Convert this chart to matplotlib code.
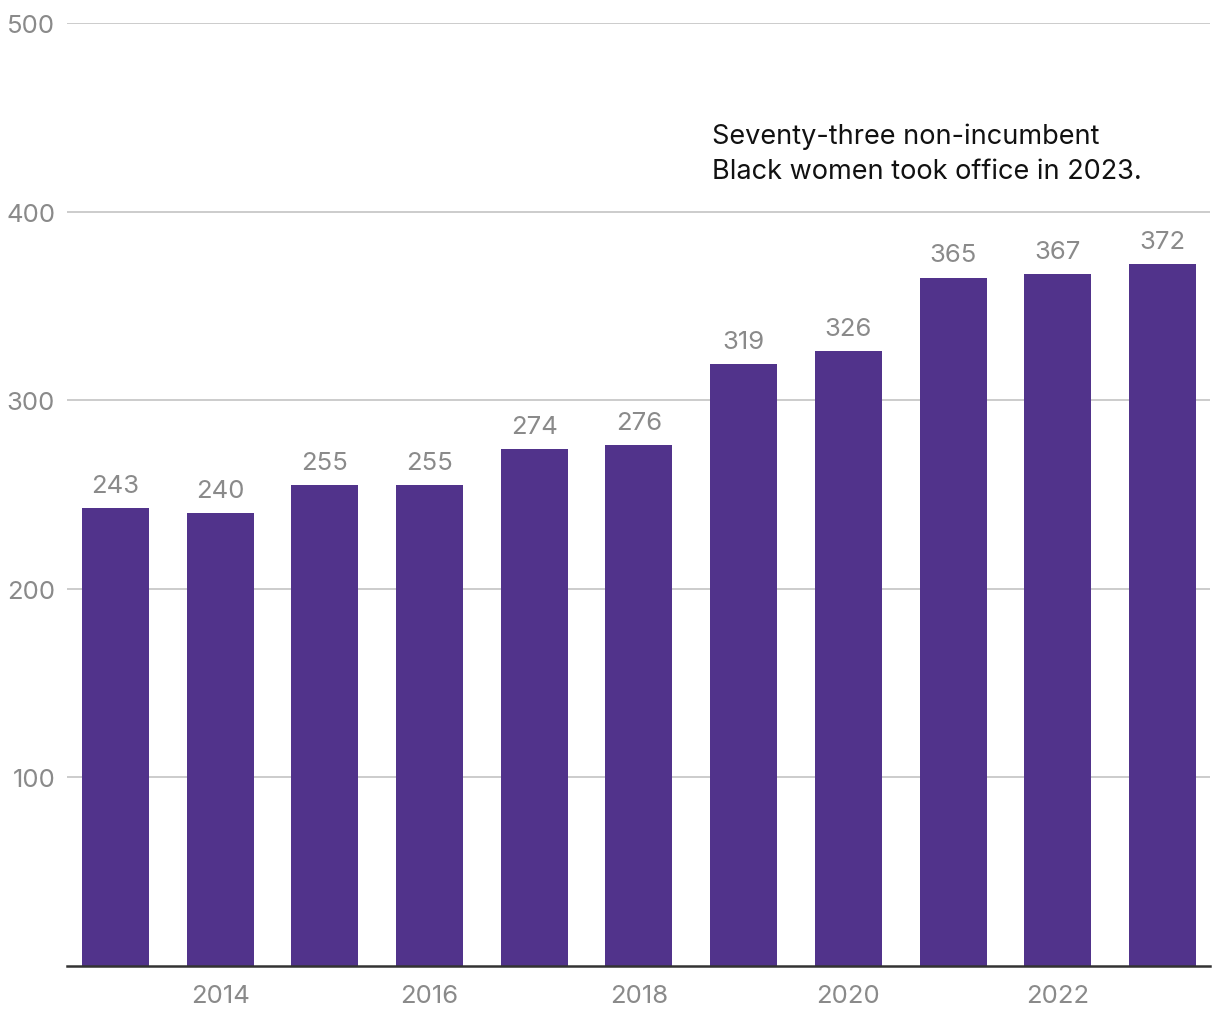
import matplotlib.pyplot as plt

plt.rcParams['font.family'] = ['Inter', 'DejaVu Sans']

years = [2013, 2014, 2015, 2016, 2017, 2018, 2019, 2020, 2021, 2022, 2023]
counts = [243, 240, 255, 255, 274, 276, 319, 326, 365, 367, 372]
yticks = [100, 200, 300, 400, 500]
xticks = [2014, 2016, 2018, 2020, 2022]
note = "Seventy-three non-incumbent\nBlack women took office in 2023."

bar_color = '#51338b'
grey = '#8a8a8a'

fig = plt.figure(figsize=(12.2, 10.2), dpi=100)
ax = fig.add_axes([67 / 1220, 53 / 1020, (1210 - 67) / 1220, (967 - 24) / 1020])

ax.bar(years, counts, width=0.64, color=bar_color, zorder=2)
for x, v in zip(years, counts):
    ax.annotate(str(v), (x, v), xytext=(0, 8), textcoords='offset points',
                ha='center', va='bottom', fontsize=18.5, color=grey)

ax.set_xlim(2012.537, 2023.454)
ax.set_ylim(0, 500)
ax.set_yticks(yticks)
ax.set_xticks(xticks)
ax.yaxis.grid(True, color='#c4c4c4', linewidth=1.2, zorder=0)
ax.tick_params(axis='both', length=0, labelsize=18.5, labelcolor=grey)
ax.tick_params(axis='y', pad=8.5)
ax.tick_params(axis='x', pad=13)
for s in ['top', 'right', 'left']:
    ax.spines[s].set_visible(False)
ax.spines['bottom'].set_color('#333333')
ax.spines['bottom'].set_linewidth(1.8)
ax.spines['bottom'].set_zorder(3)

ax.text(2018.70, 447, note, fontsize=19.5, color='#111111',
        ha='left', va='top', linespacing=1.45)

fig.savefig('out.png')
